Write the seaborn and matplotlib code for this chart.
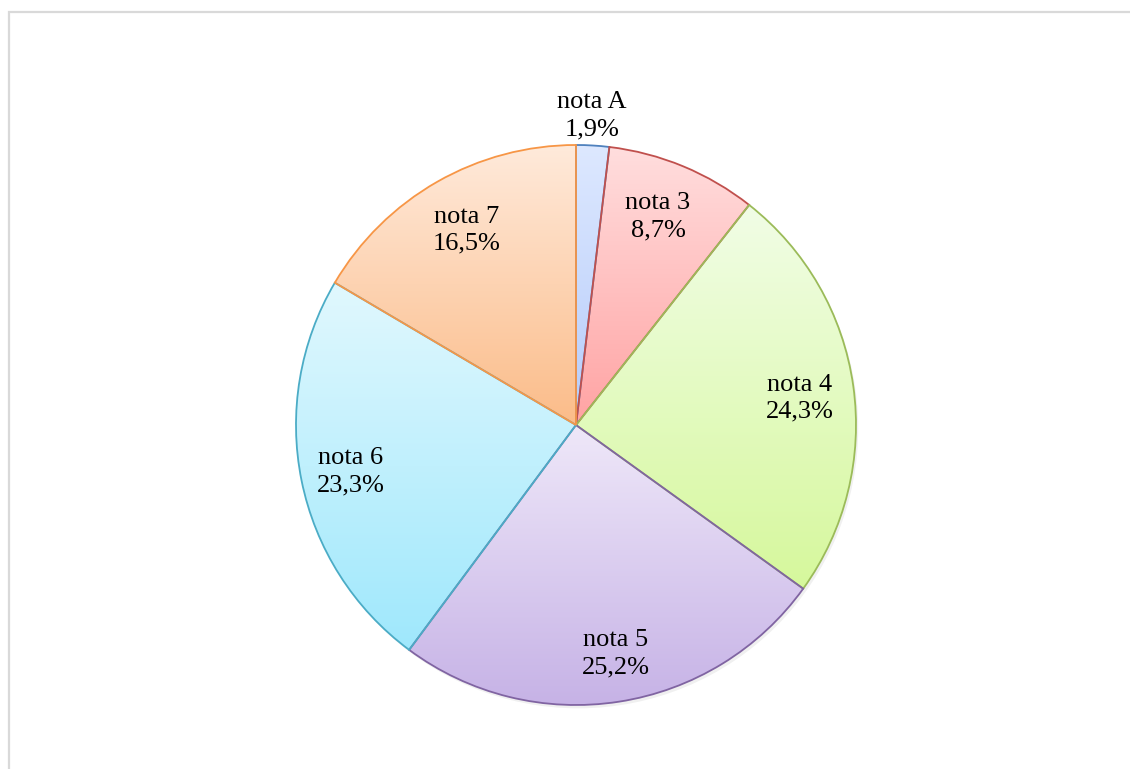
"""Pie chart of grade distribution with gradient fills."""

import numpy as np
import matplotlib
matplotlib.use("Agg")
import matplotlib.pyplot as plt
from matplotlib.colors import to_rgb
from matplotlib.patches import Rectangle, Circle
import seaborn as sns

# data
categories = ["nota A", "nota 3", "nota 4", "nota 5", "nota 6", "nota 7"]
shares = [1.9, 8.7, 24.3, 25.2, 23.3, 16.5]

# styling (Office-like palette: edge, gradient top, gradient bottom)
edge_colors = ["#4F81BD", "#C0504D", "#9BBB59", "#8064A2", "#4BACC6", "#F79646"]
top_colors = ["#DDE8FF", "#FFDEDE", "#F1FDE6", "#EFE8F9", "#E1F8FE", "#FFEADB"]
bottom_colors = ["#B6CCFA", "#FFA3A3", "#D6F89C", "#C6B2E6", "#9FE8FC", "#FBBC89"]
# label anchors in pie-radius units (layout only)
label_xy = [(0.057, 1.104), (0.293, 0.743), (0.80, 0.096),
            (0.143, -0.818), (-0.804, -0.168), (-0.389, 0.696)]

W, H, DPI = 1130, 769, 100
CX, CY, R = 576, 425, 280


def gradient_image(top, bottom, n=256):
    t = np.linspace(0, 1, n)[:, None]
    a = np.array(to_rgb(top))[None, :]
    b = np.array(to_rgb(bottom))[None, :]
    return (a * (1 - t) + b * t)[:, None, :]


def set_limits(ax):
    ax.set_xlim(-CX / R, (W - CX) / R)
    ax.set_ylim((CY - H) / R, CY / R)


def main():
    sns.set_style("white")
    plt.rcParams["font.family"] = ["Liberation Serif", "DejaVu Serif"]

    fig = plt.figure(figsize=(W / DPI, H / DPI), dpi=DPI)
    ax = fig.add_axes([0, 0, 1, 1])
    ax.axis("off")

    # faint shadow under the pie
    ax.add_patch(Circle((0.008, -0.012), 1.0, facecolor="#000000", alpha=0.06,
                        edgecolor="none", zorder=0))

    wedges, _ = ax.pie(shares, startangle=90, counterclock=False, radius=1.0,
                       colors=["none"] * len(shares),
                       wedgeprops=dict(linewidth=1.3, zorder=3))
    ax.set_aspect("auto")

    for w, ec, tc, bc in zip(wedges, edge_colors, top_colors, bottom_colors):
        w.set_edgecolor(ec)
        w.set_facecolor("none")
        verts = w.get_path().vertices
        x0, y0 = verts.min(axis=0)
        x1, y1 = verts.max(axis=0)
        im = ax.imshow(gradient_image(tc, bc), extent=(x0, x1, y0, y1),
                       origin="upper", aspect="auto", interpolation="bilinear",
                       zorder=2)
        im.set_clip_path(w)

    set_limits(ax)

    for name, val, (x, y) in zip(categories, shares, label_xy):
        txt = f"{name}\n{val:.1f}".replace(".", ",") + "%"
        ax.text(x, y, txt, ha="center", va="center", fontsize=19,
                linespacing=1.3, color="black", zorder=5)

    # light outer frame
    fig.add_artist(Rectangle((8.5 / W, -0.1), 1.2, 1.1 - 12.5 / H,
                             transform=fig.transFigure, fill=False,
                             edgecolor="#D9D9D9", linewidth=1.6))

    fig.savefig("out.png", dpi=DPI)
    plt.close(fig)


if __name__ == "__main__":
    main()
